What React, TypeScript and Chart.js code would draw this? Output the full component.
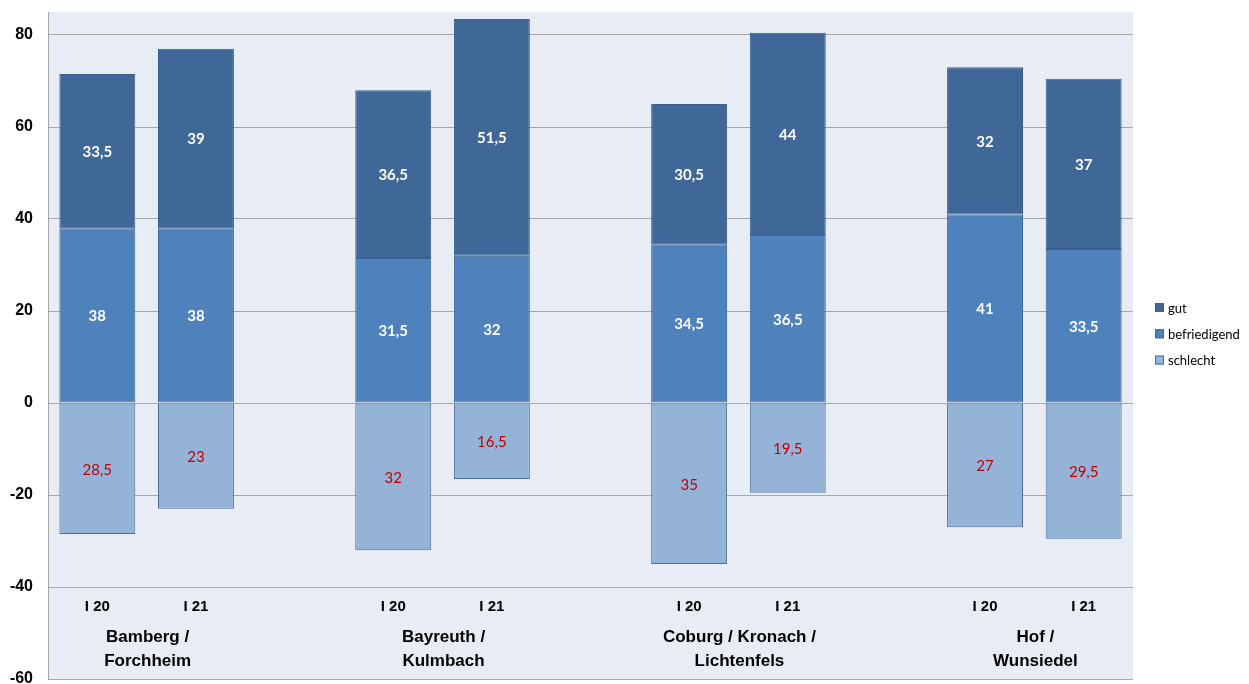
import React, { useEffect, useRef } from "react";
import { Chart, registerables } from "chart.js";

Chart.register(...registerables);

const periods = ["I 20", "I 21"];
const regions = ["Bamberg /\nForchheim", "Bayreuth /\nKulmbach", "Coburg / Kronach /\nLichtenfels", "Hof /\nWunsiedel"];
const gut = [33.5, 39, 36.5, 51.5, 30.5, 44, 32, 37];
const befriedigend = [38, 38, 31.5, 32, 34.5, 36.5, 41, 33.5];
const schlecht = [28.5, 23, 32, 16.5, 35, 19.5, 27, 29.5];
const seriesNames = ["gut", "befriedigend", "schlecht"];
const yTicks = [-60, -40, -20, 0, 20, 40, 60, 80];

const COLORS: Record<string, string> = { gut: "#3f6899", befriedigend: "#4f81bd", schlecht: "#95b3d7" };
const BORDERS: Record<string, string> = { gut: "#37608f", befriedigend: "#3a6797", schlecht: "#4a6f9e" };
const BG = "#e8edf5";

// build slots: two periods per region, with an empty slot between regions
const slotLabels: string[] = [];
const slotIndex: number[] = []; // data index -> slot
regions.forEach((_, r) => {
  periods.forEach((p) => {
    slotIndex.push(slotLabels.length);
    slotLabels.push(p);
  });
  if (r < regions.length - 1) slotLabels.push("");
});
const toSlots = (vals: number[], sign: number) => {
  const out: (number | null)[] = slotLabels.map(() => null);
  vals.forEach((v, i) => (out[slotIndex[i]] = sign * v));
  return out;
};
const fmt = (v: number) => String(Math.abs(v)).replace(".", ",");

const customPlugin = {
  id: "custom",
  beforeDraw(chart: any) {
    const { ctx, chartArea: a } = chart;
    ctx.save();
    ctx.fillStyle = BG;
    ctx.fillRect(a.left, a.top, a.right - a.left, a.bottom - a.top);
    ctx.restore();
  },
  afterDatasetsDraw(chart: any) {
    const { ctx, chartArea: a } = chart;
    const xs = chart.scales.x;
    const ys = chart.scales.y;
    ctx.save();
    ctx.textAlign = "center";
    ctx.textBaseline = "middle";
    chart.data.datasets.forEach((ds: any, di: number) => {
      const meta = chart.getDatasetMeta(di);
      const isBad = ds.label === "schlecht";
      ctx.font = isBad ? "15px Lato" : "bold 15px Lato";
      ctx.fillStyle = isBad ? "#c00000" : "#ffffff";
      meta.data.forEach((el: any, i: number) => {
        const v = ds.data[i];
        if (v == null) return;
        const p = el.getProps(["x", "y", "base"], true);
        ctx.fillText(fmt(v), p.x, (p.y + p.base) / 2 + 1);
      });
    });
    // category labels
    const yBase = ys.getPixelForValue(-40);
    ctx.fillStyle = "#000";
    ctx.font = "bold 15px 'Liberation Sans'";
    slotLabels.forEach((l, i) => {
      if (!l) return;
      ctx.fillText(l, xs.getPixelForValue(i), yBase + 20);
    });
    ctx.font = "bold 17px 'Liberation Sans'";
    regions.forEach((r, ri) => {
      const x = (xs.getPixelForValue(slotIndex[ri * 2]) + xs.getPixelForValue(slotIndex[ri * 2 + 1])) / 2 + 1;
      r.split("\n").forEach((line, li) => ctx.fillText(line, x, yBase + 50 + li * 24));
    });
    // legend
    const lx = a.right + 22;
    const ly0 = 307.5;
    ctx.textAlign = "left";
    ctx.font = "13px Lato";
    seriesNames.forEach((n, i) => {
      const y = ly0 + i * 26.3;
      ctx.fillStyle = COLORS[n];
      ctx.fillRect(lx, y - 4.5, 9, 9);
      ctx.strokeStyle = BORDERS[n];
      ctx.lineWidth = 1;
      ctx.strokeRect(lx + 0.5, y - 4, 8, 8);
      ctx.fillStyle = "#000";
      ctx.fillText(n, lx + 13, y + 1);
    });
    ctx.restore();
  },
};

export default function App() {
  const ref = useRef<HTMLCanvasElement | null>(null);
  useEffect(() => {
    if (!ref.current) return;
    const mk = (name: string, data: (number | null)[]) => ({
      label: name,
      data,
      backgroundColor: COLORS[name],
      borderColor: BORDERS[name],
      borderWidth: 1,
      borderSkipped: false,
      categoryPercentage: 1,
      barPercentage: 0.77,
    });
    const chart = new Chart(ref.current, {
      type: "bar",
      data: {
        labels: slotLabels,
        datasets: [
          mk("schlecht", toSlots(schlecht, -1)),
          mk("befriedigend", toSlots(befriedigend, 1)),
          mk("gut", toSlots(gut, 1)),
        ],
      },
      options: {
        responsive: false,
        animation: false,
        layout: { padding: { top: 12, bottom: 21, left: 0, right: 116 } },
        plugins: { legend: { display: false }, tooltip: { enabled: false } },
        scales: {
          x: { stacked: true, display: false },
          y: {
            stacked: true,
            min: -60,
            max: 85,
            afterBuildTicks: (s: any) => {
              s.ticks = yTicks.map((v) => ({ value: v }));
            },
            afterFit: (s: any) => {
              s.width = 48;
              s.paddingTop = 0;
              s.paddingBottom = 0;
            },
            border: { display: true, color: "#a6a6a6", width: 1 },
            grid: { color: "#a6a6a6", lineWidth: 1, drawTicks: false },
            ticks: {
              padding: 15,
              color: "#000",
              font: { family: "'Liberation Sans'", size: 16, weight: "bold" },
            },
          },
        },
      },
      plugins: [customPlugin],
    } as any);
    return () => chart.destroy();
  }, []);
  return (
    <div style={{ position: "fixed", left: 0, top: 0, width: 1249, height: 700 }}>
      <canvas ref={ref} width={1249} height={700} />
    </div>
  );
}
